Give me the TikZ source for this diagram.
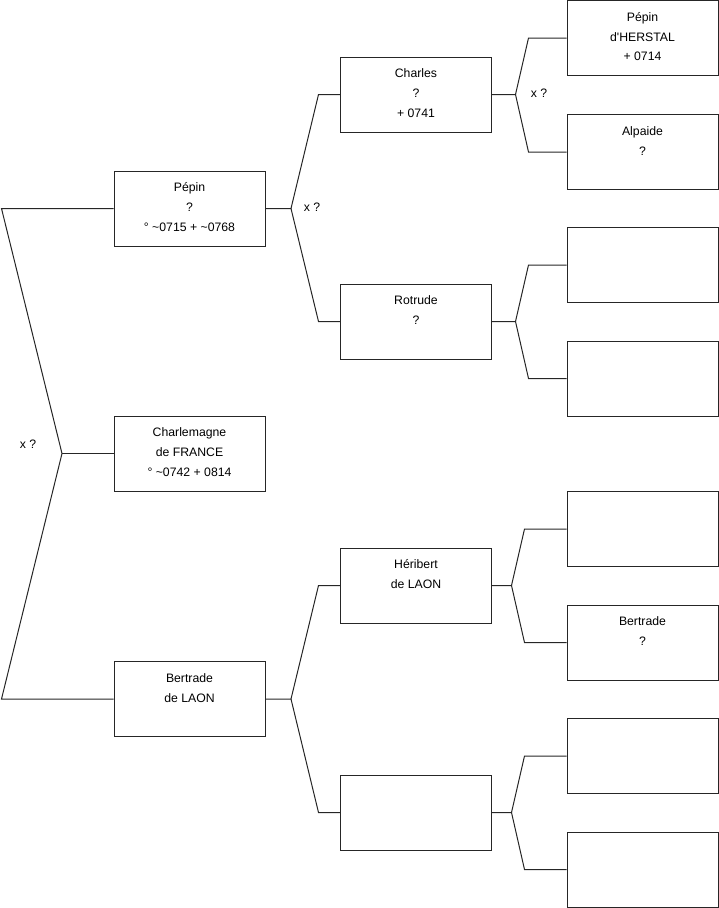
\documentclass[tikz,border=0pt]{standalone}
\usepackage{fontspec}
\setmainfont{Liberation Sans}
\usetikzlibrary{positioning}

\begin{document}
\begin{tikzpicture}[x=1bp, y=-1bp,
    every node/.style={font=\fontsize{12.3}{20}\selectfont},
    box/.style={draw=black!85, line width=1bp, minimum width=151bp, minimum height=75bp, inner sep=0pt},
    who/.style={align=center, anchor=north, inner sep=0pt},
    link/.style={draw=black!85, line width=1bp}]
  \useasboundingbox (0,0) rectangle (719,908);
  % generation 1
  \node[box] (pepin) at (189.5,208.5) {};
  \node[box] (charlemagne) at (189.5,453.5) {};
  \node[box] (bertrade) at (189.5,699) {};
  \node[who] (pepin-t) at ([yshift=-7bp]pepin.north) {\strut Pépin\\?\\° \textasciitilde0715 + \textasciitilde0768};
  \node[who] (charlemagne-t) at ([yshift=-7bp]charlemagne.north) {\strut Charlemagne\\de FRANCE\\° \textasciitilde0742 + 0814};
  \node[who] (bertrade-t) at ([yshift=-7bp]bertrade.north) {\strut Bertrade\\de LAON};
  % generation 2
  \node[box] (charles) at (416,94.5) {};
  \node[box] (rotrude) at (416,321.5) {};
  \node[box] (heribert) at (416,585.5) {};
  \node[box] (nobody) at (416,812.5) {};
  \node[who] (charles-t) at ([yshift=-7bp]charles.north) {\strut Charles\\?\\+ 0741};
  \node[who] (rotrude-t) at ([yshift=-7bp]rotrude.north) {\strut Rotrude\\?};
  \node[who] (heribert-t) at ([yshift=-7bp]heribert.north) {\strut Héribert\\de LAON};
  % generation 3
  \node[box] (herstal) at (642.5,38) {};
  \node[box] (alpaide) at (642.5,152) {};
  \node[box] (rf) at (642.5,265) {};
  \node[box] (rm) at (642.5,378.5) {};
  \node[box] (hf) at (642.5,529) {};
  \node[box] (bertrade2) at (642.5,642.5) {};
  \node[box] (nf) at (642.5,756) {};
  \node[box] (nm) at (642.5,869.5) {};
  \node[who] (herstal-t) at ([yshift=-7bp]herstal.north) {\strut Pépin\\d\textquotesingle HERSTAL\\+ 0714};
  \node[who] (alpaide-t) at ([yshift=-7bp]alpaide.north) {\strut Alpaide\\?};
  \node[who] (bertrade2-t) at ([yshift=-7bp]bertrade2.north) {\strut Bertrade\\?};
  % marriages
  \node (x0) at (28,444) {x ?};
  \node (x1) at (312,207) {x ?};
  \node (x2) at (539,93) {x ?};
  % links
  \coordinate (s1) at (1.5,208.5);
  \coordinate (s3) at (1.5,699);
  \coordinate (f0) at (62,453.5);
  \draw[link] (pepin.west) -- (s1) -- (f0) -- (s3) -- (bertrade.west);
  \draw[link] (f0) -- (charlemagne.west);
  \draw[link] (pepin.east) -- ++(25.5,0) coordinate (f1) -- ([xshift=-21.5bp]charles.west) -- (charles.west);
  \draw[link] (f1) -- ([xshift=-21.5bp]rotrude.west) -- (rotrude.west);
  \draw[link] (bertrade.east) -- ++(25.5,0) coordinate (f2) -- ([xshift=-21.5bp]heribert.west) -- (heribert.west);
  \draw[link] (f2) -- ([xshift=-21.5bp]nobody.west) -- (nobody.west);
  \draw[link] (charles.east) -- ++(23.5,0) coordinate (f3) -- ([xshift=-38bp]herstal.west) -- (herstal.west);
  \draw[link] (f3) -- ([xshift=-38bp]alpaide.west) -- (alpaide.west);
  \draw[link] (rotrude.east) -- ++(23.5,0) coordinate (f4) -- ([xshift=-38bp]rf.west) -- (rf.west);
  \draw[link] (f4) -- ([xshift=-38bp]rm.west) -- (rm.west);
  \draw[link] (heribert.east) -- ++(19.5,0) coordinate (f5) -- ([xshift=-42bp]hf.west) -- (hf.west);
  \draw[link] (f5) -- ([xshift=-42bp]bertrade2.west) -- (bertrade2.west);
  \draw[link] (nobody.east) -- ++(19.5,0) coordinate (f6) -- ([xshift=-42bp]nf.west) -- (nf.west);
  \draw[link] (f6) -- ([xshift=-42bp]nm.west) -- (nm.west);
\end{tikzpicture}
\end{document}
